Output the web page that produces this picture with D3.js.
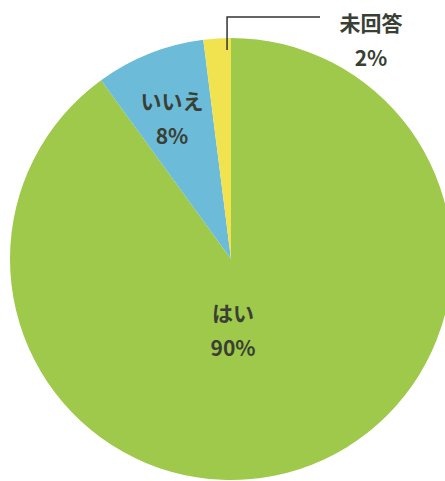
<!DOCTYPE html>
<html lang="ja">
<head>
    <meta charset="UTF-8">
    <title>Pie chart</title>
    <style>
        body { margin: 0; background: #fff; }
        svg text { font-family: "Noto Sans CJK JP", "Noto Sans", sans-serif; font-weight: bold; fill: #3a3f34; }
    </style>
</head>
<body>
    <svg id="chart" width="445" height="481"></svg>

    <script src="https://d3js.org/d3.v7.min.js"></script>
    <script>
        const labels = ["はい", "いいえ", "未回答"];
        const values = [90, 8, 2];
        const colors = ["#9ec94a", "#6cbcd9", "#f1e350"];

        const width = 445;
        const height = 481;
        const cx = 231, cy = 259, radius = 221;

        const svg = d3.select("#chart");
        const g = svg.append("g").attr("transform", `translate(${cx}, ${cy})`);

        const pie = d3.pie().sort(null).value(d => d);
        const arcs = pie(values);
        const arc = d3.arc().innerRadius(0).outerRadius(radius);

        g.selectAll("path")
            .data(arcs)
            .enter()
            .append("path")
            .attr("d", arc)
            .attr("fill", (d, i) => colors[i]);

        // label positions (relative to centre)
        const labelPos = [
            {x: 2, y: 62},
            {x: -59, y: -150},
            {x: 140, y: -228}
        ];

        arcs.forEach((d, i) => {
            const t = g.append("text")
                .attr("text-anchor", "middle")
                .attr("font-size", 21)
                .attr("x", labelPos[i].x)
                .attr("y", labelPos[i].y);
            t.append("tspan").attr("x", labelPos[i].x).text(labels[i]);
            t.append("tspan").attr("x", labelPos[i].x).attr("dy", 35).text(values[i] + "%");
        });

        // leader line for the small slice
        const small = arcs[2];
        const a = small.startAngle + 0.85 * (small.endAngle - small.startAngle);
        const sx = Math.sin(a) * (radius - 12);
        g.append("path")
            .attr("d", `M${sx},${-radius + 12} V${-cy + 17} H${320 - cx}`)
            .attr("fill", "none")
            .attr("stroke", "#333")
            .attr("stroke-width", 1.5);
    </script>
</body>
</html>
